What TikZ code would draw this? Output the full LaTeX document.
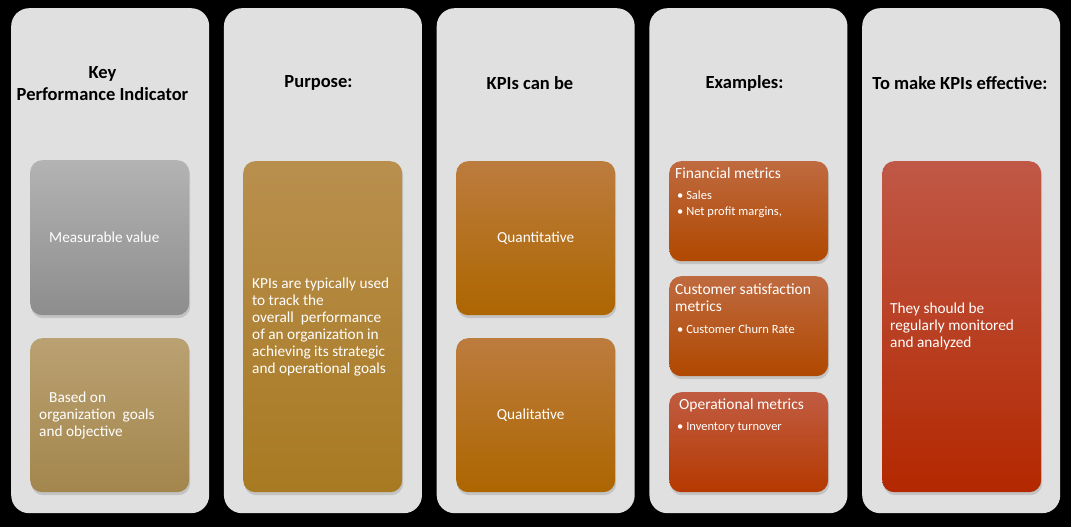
\documentclass[tikz,border=0pt]{standalone}
\usepackage{fontspec}
\setmainfont{Carlito}
\usetikzlibrary{positioning, shadows}
\definecolor{panelgray}{HTML}{E0E0E0}
\definecolor{grayhi}{HTML}{B3B3B3}
\definecolor{graylo}{HTML}{8D8D8D}
\definecolor{tanhi}{HTML}{BAA172}
\definecolor{tanlo}{HTML}{A3864C}
\definecolor{goldhi}{HTML}{B98F4E}
\definecolor{goldlo}{HTML}{A87A22}
\definecolor{amberhi}{HTML}{BC7C3E}
\definecolor{amberlo}{HTML}{AD6600}
\definecolor{rusthi}{HTML}{BF6A40}
\definecolor{rustlo}{HTML}{B04800}
\definecolor{brickhi}{HTML}{C05C42}
\definecolor{bricklo}{HTML}{B53900}
\definecolor{redhi}{HTML}{C05847}
\definecolor{redlo}{HTML}{B32800}

\begin{document}
\begin{tikzpicture}[
    x=1pt, y=-1pt,
    every node/.style={font=\fontsize{15.3}{17}\selectfont, inner sep=0pt},
    panel/.style={fill=panelgray, rounded corners=18pt, minimum width=198pt, minimum height=505pt, anchor=north west},
    head/.style={font=\bfseries\fontsize{18.5}{22}\selectfont, align=center, text=black},
    card/.style={rounded corners=12pt, minimum width=159pt, anchor=north west,
        drop shadow={opacity=0.3, shadow xshift=1pt, shadow yshift=-3pt}},
    txt/.style={text=white, align=left},
    sub/.style={text=white, align=left, font=\fontsize{15.5}{17}\selectfont},
    bul/.style={text=white, align=left, font=\fontsize{12.5}{16}\selectfont}
]
% Background
\fill[black] (0,0) rectangle (1071,527);
% Panels
\foreach \i/\nm in {0/pnlKey,1/pnlPurpose,2/pnlKinds,3/pnlExamples,4/pnlEffective} {
    \node[panel] (\nm) at (11+212.75*\i, 8) {};
}
% Headings
\node[head] (hdKey) at (102.5, 84) {Key\\Performance Indicator};
\node[head] (hdPurpose) at (318.5, 83) {Purpose:};
\node[head] (hdKinds) at (530, 83) {KPIs can be};
\node[head] (hdExamples) at (744.5, 83) {Examples:};
\node[head] (hdEffective) at (960, 83) {To make KPIs effective:};

% Key Performance Indicator
\node[card, minimum height=155pt, top color=grayhi, bottom color=graylo] (cMeasure) at (30,160) {};
\node[txt, anchor=west] (tMeasure) at ([xshift=19pt]cMeasure.west) {Measurable value};
\node[card, minimum height=154pt, top color=tanhi, bottom color=tanlo] (cBased) at (30,338) {};
\node[txt, anchor=west] (tBased) at ([xshift=9pt]cBased.west) {\hspace*{10pt}Based on\\organization\ \ goals\\and objective};

% Purpose
\node[card, minimum height=331pt, top color=goldhi, bottom color=goldlo] (cPurpose) at (243,161) {};
\node[txt, anchor=west] (tPurpose) at ([xshift=9pt]cPurpose.west) {KPIs are typically used\\to track the\\overall\ \ performance\\of an organization in\\achieving its strategic\\and operational goals};

% KPIs can be
\node[card, minimum height=154pt, top color=amberhi, bottom color=amberlo] (cQuant) at (456,161) {};
\node[txt] (tQuant) at (cQuant.center) {Quantitative};
\node[card, minimum height=154pt, top color=amberhi, bottom color=amberlo] (cQual) at (456,338) {};
\node[txt] (tQual) at ([xshift=-5pt]cQual.center) {Qualitative};

% Examples
\node[card, minimum height=100pt, top color=rusthi, bottom color=rustlo] (cFin) at (669,161) {};
\node[sub, anchor=north west] (tFin) at ([xshift=6pt,yshift=-7pt]cFin.north west) {Financial metrics};
\node[bul, anchor=north west] (bFin) at ([xshift=2pt,yshift=-11pt]tFin.south west) {\textbullet\ Sales\\\textbullet\ Net profit margins,};
\node[card, minimum height=100pt, top color=rusthi, bottom color=rustlo] (cCust) at (669,276) {};
\node[sub, anchor=north west] (tCust) at ([xshift=6pt,yshift=-8pt]cCust.north west) {Customer satisfaction\\metrics};
\node[bul, anchor=north west] (bCust) at ([xshift=2pt,yshift=-12pt]tCust.south west) {\textbullet\ Customer Churn Rate};
\node[card, minimum height=100pt, top color=brickhi, bottom color=bricklo] (cOper) at (669,392) {};
\node[sub, anchor=north west] (tOper) at ([xshift=10pt,yshift=-7pt]cOper.north west) {Operational metrics};
\node[bul, anchor=north west] (bOper) at ([xshift=-2pt,yshift=-10pt]tOper.south west) {\textbullet\ Inventory turnover};

% To make KPIs effective
\node[card, minimum height=331pt, top color=redhi, bottom color=redlo] (cEff) at (882,161) {};
\node[txt, anchor=west] (tEff) at ([xshift=8pt]cEff.west) {They should be\\regularly monitored\\and analyzed};
\end{tikzpicture}
\end{document}
